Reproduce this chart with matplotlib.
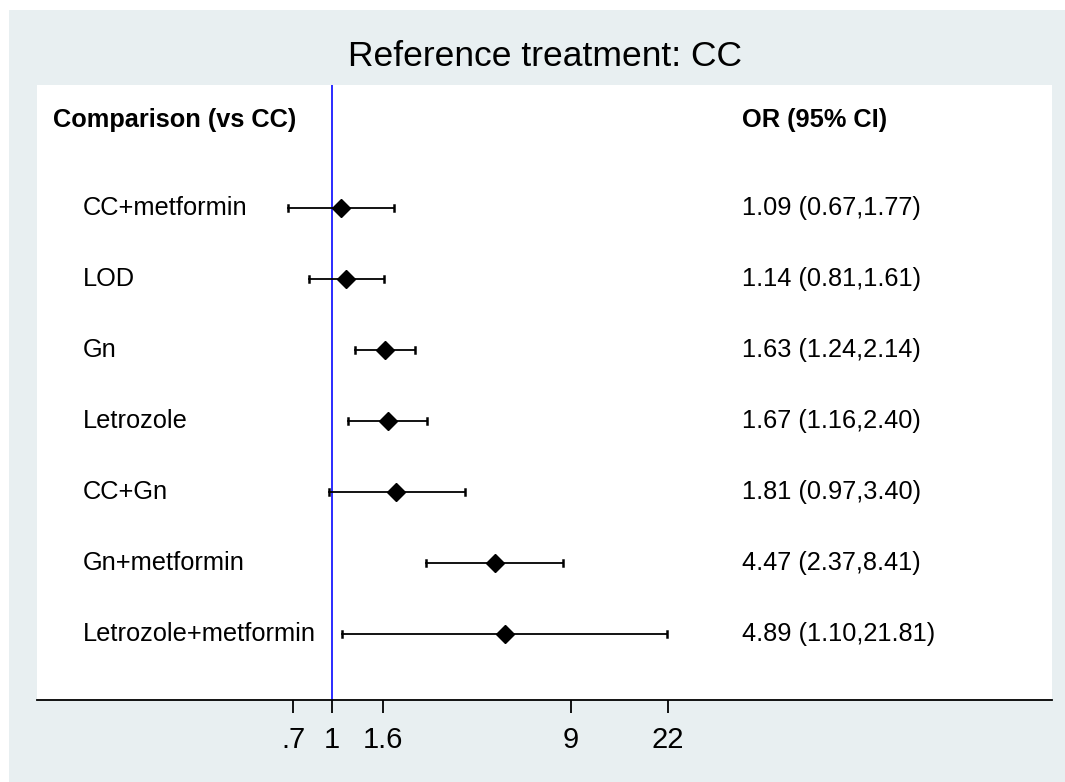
import matplotlib
matplotlib.use("Agg")
import matplotlib.pyplot as plt
from matplotlib.patches import Rectangle
import numpy as np

plt.rcParams['font.family'] = ['Liberation Sans', 'DejaVu Sans']

comparisons = ["CC+metformin", "LOD", "Gn", "Letrozole", "CC+Gn", "Gn+metformin", "Letrozole+metformin"]
or_vals = [1.09, 1.14, 1.63, 1.67, 1.81, 4.47, 4.89]
ci_low = [0.67, 0.81, 1.24, 1.16, 0.97, 2.37, 1.10]
ci_high = [1.77, 1.61, 2.14, 2.40, 3.40, 8.41, 21.81]
tick_vals = [0.7, 1, 1.6, 9, 22]
tick_labels = [".7", "1", "1.6", "9", "22"]

W, H = 1065, 782
fig = plt.figure(figsize=(W / 100, H / 100), dpi=100)
fig.patch.set_facecolor("white")
fig.patches.append(Rectangle((9 / W, 0), 1 - 9 / W, 1 - 10 / H, transform=fig.transFigure,
                             facecolor="#e8eff1", edgecolor="none", zorder=-10))

ax = fig.add_axes([37 / W, 1 - 700 / H, (1052 - 37) / W, (700 - 85) / H])
ax.set_facecolor("white")
ax.set_xscale("log")
ax.set_xlim(np.exp(-2.714), np.exp(6.624))
ax.set_ylim(6.93, -1.732)

y = np.arange(len(comparisons))
for i in range(len(comparisons)):
    ax.plot([ci_low[i], ci_high[i]], [y[i], y[i]], color="black", lw=1.3, zorder=3)
    ax.plot([ci_low[i], ci_low[i]], [y[i] - 0.045, y[i] + 0.045], color="black", lw=1.8, zorder=3)
    ax.plot([ci_high[i], ci_high[i]], [y[i] - 0.045, y[i] + 0.045], color="black", lw=1.8, zorder=3)
ax.plot(or_vals, y, linestyle="none", marker="D", markersize=9.2, color="black", zorder=4)

ax.axvline(1, color="#1a1aff", lw=1.3, zorder=2)

fs = 18.3
for i, name in enumerate(comparisons):
    ax.text(0.0453, y[i], name, transform=ax.get_yaxis_transform(), ha="left", va="center", fontsize=fs)
    ax.text(0.6946, y[i], f"{or_vals[i]:.2f} ({ci_low[i]:.2f},{ci_high[i]:.2f})",
            transform=ax.get_yaxis_transform(), ha="left", va="center", fontsize=fs)
ax.text(0.0158, -1.24, "Comparison (vs CC)", transform=ax.get_yaxis_transform(),
        ha="left", va="center", fontsize=fs, fontweight="bold")
ax.text(0.6946, -1.24, "OR (95% CI)", transform=ax.get_yaxis_transform(),
        ha="left", va="center", fontsize=fs, fontweight="bold")

for s in ["top", "left", "right"]:
    ax.spines[s].set_visible(False)
ax.spines["bottom"].set_linewidth(1.3)
ax.set_yticks([])
ax.set_xticks(tick_vals)
ax.set_xticklabels(tick_labels)
ax.xaxis.set_minor_locator(matplotlib.ticker.NullLocator())
ax.tick_params(axis="x", direction="out", length=9.4, width=1.3, labelsize=21, pad=9.5)

fig.text(0.5 * (37 + 1052) / W, 1 - 66 / H, "Reference treatment: CC", ha="center", va="baseline", fontsize=25.5)

fig.savefig("out.png", dpi=100)
